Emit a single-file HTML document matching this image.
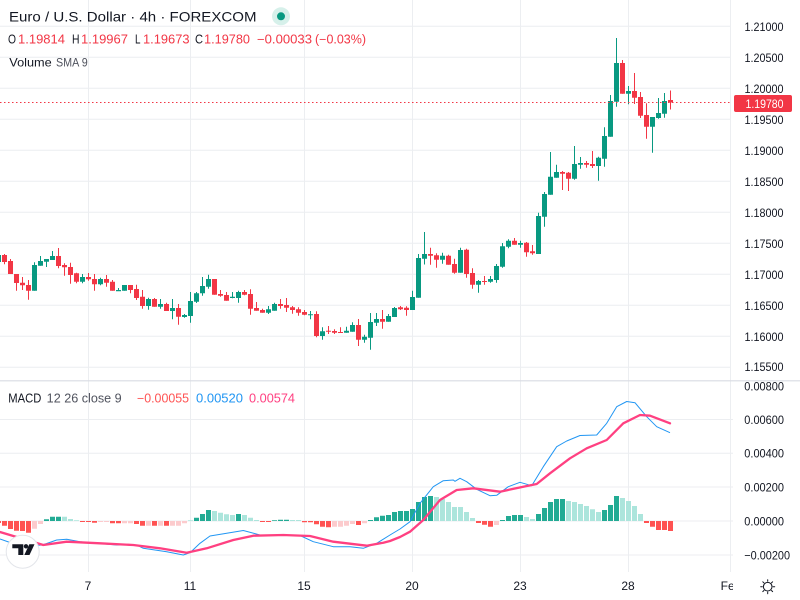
<!DOCTYPE html>
<html><head><meta charset="utf-8"><style>
html,body{margin:0;padding:0;background:#fff;}
svg{display:block;font-family:"Liberation Sans",sans-serif;}
</style></head><body>
<svg width="800" height="600" viewBox="0 0 800 600" xmlns="http://www.w3.org/2000/svg">
<rect width="800" height="600" fill="#fff"/>
<defs>
<clipPath id="plot"><rect x="0" y="0" width="731" height="600"/></clipPath>
<clipPath id="taxis"><rect x="0" y="560" width="733" height="40"/></clipPath>
<clipPath id="maxis"><rect x="732" y="381.5" width="68" height="190"/></clipPath>
</defs>
<!-- grid -->
<g stroke="#eceef1" stroke-width="1" fill="none">
<path d="M0 26.3H731M0 57.3H731M0 88.3H731M0 119.3H731M0 150.3H731M0 181.3H731M0 212.3H731M0 243.3H731M0 274.3H731M0 305.3H731M0 336.3H731M0 367.3H731"/>
<path d="M0 419.5H733M0 453.3H733M0 487H733M0 521H733M0 555H733"/>
<path d="M88.5 0V572M190.5 0V572M304.5 0V572M412.5 0V572M520.5 0V572M628.5 0V572M730.5 0V572"/>
</g>
<line x1="0" y1="380.8" x2="800" y2="380.8" stroke="#d9dbe3" stroke-width="1.2"/>

<g clip-path="url(#plot)">
<!-- wicks -->
<path stroke="#089981" stroke-width="1" fill="none" d="M-1.5 254V263M34.5 262.3V290.7M40.5 256V265.7M46.5 259V267M52.5 251V260M82.5 274V283.3M100.5 277.7V285.3M118.5 288V291M124.5 285V290.7M148.5 297.7V309.7M160.5 299V308.7M172.5 299V319.3M184.5 314V317.7M190.5 292V322.7M196.5 292V303M202.5 277V295.7M208.5 274.7V288.7M232.5 292V298.3M238.5 290.7V302.7M268.5 306V314M274.5 302.7V310.7M310.5 311V319.3M322.5 327.3V339.7M346.5 326.7V332.7M352.5 322.3V331.7M364.5 334.7V342.7M370.5 313V349.7M376.5 313V326M388.5 314V321.7M394.5 307V317M412.5 290.7V310M418.5 254V297.7M424.5 232V264.5M442.5 252.7V263.7M460.5 247.7V272.7M478.5 280V292.7M490.5 276V282.7M496.5 264V282.7M502.5 243V267.7M508.5 239.3V248.3M520.5 240.7V247.7M538.5 212.7V254M544.5 192V226.7M550.5 152V194.7M556.5 164.7V177.7M574.5 146V179.7M580.5 157V168.7M598.5 156.7V180.7M604.5 127.3V166.7M610.5 95V136.7M616.5 38V106.7M628.5 86V104.3M652.5 117V152.7M658.5 98V118.7M664.5 93V117.7"/>
<path stroke="#f23645" stroke-width="1" fill="none" d="M4.5 254V264.3M10.5 259V274M16.5 274V290.7M22.5 277V290M28.5 280V299.7M58.5 248V268.3M64.5 263.3V275.7M70.5 262.7V283.7M76.5 272.7V283.3M88.5 273V280.7M94.5 274V290.7M106.5 275V286.7M112.5 280V290.7M130.5 285V293.3M136.5 284.7V300M142.5 290V308.7M154.5 298V306.7M166.5 302.7V311M178.5 304V324.7M214.5 279V294.7M220.5 290V296.7M226.5 292V300.7M244.5 290V295.3M250.5 289.3V314.7M256.5 302V310.7M262.5 308.7V312.7M280.5 299V308.7M286.5 298V312M292.5 306V313.7M298.5 307.3V315.7M304.5 310V315.3M316.5 311.3V337.3M328.5 326V334M334.5 329.3V334M340.5 327.3V333M358.5 319V346M382.5 310V328.7M400.5 306V310M406.5 306.3V315.7M430.5 247.7V264.7M436.5 253.3V267.7M448.5 254.7V264.7M454.5 258.7V273.7M466.5 248.7V277.7M472.5 268.3V288.7M484.5 276V284.7M514.5 238V244.7M526.5 242V256.7M532.5 245V254.7M562.5 171V190M568.5 172V191M586.5 161V167.7M592.5 151V168M622.5 60V93.7M634.5 73V104M640.5 92V118M646.5 103.3V138.7M670.5 90.5V109.5"/>
<!-- bodies -->
<path fill="#089981" d="M-4 255h5V262h-5ZM32 265h5V290.7h-5ZM38 261h5V265.7h-5ZM44 259h5V261.7h-5ZM50 256h5V260h-5ZM80 277h5V281.7h-5ZM98 279h5V284.3h-5ZM116 290h5V291.2h-5ZM122 285h5V290.7h-5ZM146 299h5V306h-5ZM158 304h5V306.7h-5ZM170 308h5V311h-5ZM182 315h5V317h-5ZM188 301h5V316h-5ZM194 293.3h5V301.7h-5ZM200 286h5V293.3h-5ZM206 279h5V286.7h-5ZM230 296.7h5V298h-5ZM236 292h5V298h-5ZM266 309.3h5V312.7h-5ZM272 304h5V310.7h-5ZM308 314.2h5V315.3h-5ZM320 331.3h5V336h-5ZM344 330.7h5V332.7h-5ZM350 325h5V331.7h-5ZM362 336.7h5V339.7h-5ZM368 322h5V337.7h-5ZM374 319h5V322.7h-5ZM386 316h5V321.7h-5ZM392 308h5V317h-5ZM410 297h5V310h-5ZM416 258h5V297.7h-5ZM422 254h5V258.7h-5ZM440 255.7h5V259.7h-5ZM458 250h5V272.7h-5ZM476 281h5V284.7h-5ZM488 279h5V281.7h-5ZM494 266h5V280h-5ZM500 246.3h5V266.7h-5ZM506 240.7h5V246.7h-5ZM518 243h5V244.7h-5ZM536 216h5V254h-5ZM542 194h5V216.7h-5ZM548 176.7h5V194.7h-5ZM554 172h5V177.7h-5ZM572 164h5V178.7h-5ZM578 163h5V164.7h-5ZM596 157.7h5V166h-5ZM602 136h5V158.7h-5ZM608 101h5V136.7h-5ZM614 63h5V101.7h-5ZM626 91h5V93.7h-5ZM650 117h5V126.7h-5ZM656 113h5V118h-5ZM662 101h5V113.7h-5Z"/>
<path fill="#f23645" d="M2 255h5V262h-5ZM8 261h5V274h-5ZM14 274h5V283h-5ZM20 282.7h5V285.3h-5ZM26 285h5V290.7h-5ZM56 256h5V266h-5ZM62 265h5V267.3h-5ZM68 267h5V275h-5ZM74 273.3h5V281.7h-5ZM86 277h5V279.3h-5ZM92 279h5V284.3h-5ZM104 279h5V282.7h-5ZM110 281.7h5V290.7h-5ZM128 285h5V290h-5ZM134 289h5V298h-5ZM140 296.7h5V306h-5ZM152 299h5V306.7h-5ZM164 304h5V311h-5ZM176 308h5V316.7h-5ZM212 279h5V294.7h-5ZM218 294h5V295.7h-5ZM224 295h5V300.7h-5ZM242 292h5V294.7h-5ZM248 294h5V308.7h-5ZM254 308h5V310.7h-5ZM260 310h5V312.7h-5ZM278 304h5V306h-5ZM284 305h5V307.7h-5ZM290 307.3h5V310h-5ZM296 309.3h5V312.7h-5ZM302 312h5V314.7h-5ZM314 314h5V336h-5ZM326 330.7h5V331.7h-5ZM332 331h5V332.7h-5ZM338 332h5V333h-5ZM356 325h5V339.7h-5ZM380 319h5V321.7h-5ZM398 307.3h5V309.3h-5ZM404 307.7h5V310h-5ZM428 254h5V255.7h-5ZM434 255.3h5V259.7h-5ZM446 255.7h5V264.7h-5ZM452 264h5V272.7h-5ZM464 249.7h5V274h-5ZM470 273h5V284.7h-5ZM482 281h5V282h-5ZM512 240.7h5V244.7h-5ZM524 242.7h5V252.3h-5ZM530 251.3h5V253.3h-5ZM560 172h5V173.7h-5ZM566 172.7h5V178.7h-5ZM584 163h5V164.7h-5ZM590 164h5V166h-5ZM620 63h5V93.7h-5ZM632 91h5V97.7h-5ZM638 97h5V115.7h-5ZM644 115h5V126.7h-5ZM668 100h5V102.5h-5Z"/>
<!-- price line -->
<line x1="0" y1="102.5" x2="731" y2="102.5" stroke="#f23645" stroke-width="1" stroke-dasharray="1.5,2.5"/>

<!-- MACD histogram -->
<path fill="#22ab94" d="M44 519.3h5V521h-5ZM50 516.7h5V521h-5ZM56 516.7h5V521h-5ZM194 517.7h5V521h-5ZM200 514h5V521h-5ZM206 510h5V521h-5ZM236 514h5V521h-5ZM272 520.2h5V521h-5ZM278 519.7h5V521h-5ZM284 519.7h5V521h-5ZM368 520h5V521h-5ZM374 517.3h5V521h-5ZM380 515.7h5V521h-5ZM386 515h5V521h-5ZM392 512h5V521h-5ZM398 511h5V521h-5ZM404 511h5V521h-5ZM410 509h5V521h-5ZM416 502h5V521h-5ZM422 497h5V521h-5ZM428 496h5V521h-5ZM500 520h5V521h-5ZM506 516h5V521h-5ZM512 515h5V521h-5ZM518 515h5V521h-5ZM536 514h5V521h-5ZM542 508h5V521h-5ZM548 502h5V521h-5ZM554 499h5V521h-5ZM560 499h5V521h-5ZM602 510h5V521h-5ZM608 505h5V521h-5ZM614 496h5V521h-5Z"/>
<path fill="#ace5dc" d="M62 516.7h5V521h-5ZM68 519h5V521h-5ZM74 520.2h5V521h-5ZM188 520.2h5V521h-5ZM212 511h5V521h-5ZM218 512.7h5V521h-5ZM224 514.3h5V521h-5ZM230 515h5V521h-5ZM242 515h5V521h-5ZM248 517.7h5V521h-5ZM254 520h5V521h-5ZM290 520h5V521h-5ZM296 520h5V521h-5ZM434 497h5V521h-5ZM440 499h5V521h-5ZM446 502h5V521h-5ZM452 507h5V521h-5ZM458 507h5V521h-5ZM464 512h5V521h-5ZM470 518h5V521h-5ZM524 517h5V521h-5ZM530 519h5V521h-5ZM566 501h5V521h-5ZM572 502h5V521h-5ZM578 504h5V521h-5ZM584 506h5V521h-5ZM590 509.3h5V521h-5ZM596 512h5V521h-5ZM620 498h5V521h-5ZM626 501h5V521h-5ZM632 506h5V521h-5ZM638 514h5V521h-5Z"/>
<path fill="#ff5252" d="M-4 521h5V523h-5ZM2 521h5V525.7h-5ZM8 521h5V529h-5ZM14 521h5V530.7h-5ZM20 521h5V531h-5ZM26 521h5V532.7h-5ZM80 521h5V522h-5ZM86 521h5V522h-5ZM92 521h5V522.7h-5ZM110 521h5V523.3h-5ZM116 521h5V523.3h-5ZM134 521h5V524h-5ZM140 521h5V525.7h-5ZM152 521h5V525.7h-5ZM164 521h5V525.7h-5ZM260 521h5V522h-5ZM266 521h5V522h-5ZM302 521h5V522.3h-5ZM308 521h5V522.3h-5ZM314 521h5V524.3h-5ZM320 521h5V526.7h-5ZM326 521h5V527.3h-5ZM356 521h5V525h-5ZM476 521h5V523h-5ZM482 521h5V524.7h-5ZM488 521h5V526.7h-5ZM644 521h5V523h-5ZM650 521h5V526.7h-5ZM656 521h5V530h-5ZM662 521h5V530h-5ZM668 521h5V531h-5Z"/>
<path fill="#fccbcd" d="M32 521h5V528.7h-5ZM38 521h5V524h-5ZM98 521h5V522h-5ZM104 521h5V522h-5ZM122 521h5V523.3h-5ZM128 521h5V523.3h-5ZM146 521h5V525.7h-5ZM158 521h5V525.7h-5ZM170 521h5V525.7h-5ZM176 521h5V525.7h-5ZM182 521h5V523.3h-5ZM332 521h5V526.7h-5ZM338 521h5V526.7h-5ZM344 521h5V525.7h-5ZM350 521h5V524h-5ZM362 521h5V523.3h-5ZM494 521h5V525h-5Z"/>
<!-- MACD line -->
<polyline fill="none" stroke="#2196f3" stroke-width="1" stroke-linejoin="round" points="0,539 10,542.5 20,545 30,546 41.7,545 46.7,543.5 56.7,540 66.7,539.3 80,541.7 96.7,543.3 116.7,545 136.7,545 143.3,548.3 166.7,551.7 183.3,555 190,552.7 200,543.3 210,536 226.7,533.3 243.3,530.5 260,535 276.7,535 300,535.5 313.3,541.7 333.3,546.7 350,546.7 363.3,548.3 376.7,543.3 390,535 400,529 410,521.7 420,503.3 433.3,486.7 443.3,480.7 453.3,480 455,481.3 460,478.3 466.7,481.7 476.7,489.3 490,495.7 496.7,495.3 508.3,486.7 520,482.3 531.7,485.7 543.3,466.7 556.7,446.7 566.7,441 580,435.5 596.7,435 606.7,423.3 616.7,406.7 626.7,401.5 635,402.7 646.7,416.7 656.7,426.7 670,432.7"/>
<!-- signal line -->
<polyline fill="none" stroke="#ff4081" stroke-width="2.3" stroke-linejoin="round" stroke-linecap="round" points="0,532 15,536.5 30,541 43.3,545 66.7,541.7 100,543.3 133.3,545 160,548.3 186.7,552.7 206.7,548.3 233.3,540 253.3,535.7 283.3,535 310,536 333.3,541.7 366.7,545.7 383.3,542.7 390,541 400,537 410,531.7 423.3,520 440,500 456.7,490 473.3,488.3 500,491.7 523.3,486.7 536.7,484 550,473.3 570,458.3 586.7,448.3 606.7,440 623.3,423.3 640,415 650,415.7 670,423.3"/>
</g>

<!-- logo -->
<circle cx="22.7" cy="551.7" r="16.5" fill="#fff" stroke="#e3e5ea" stroke-width="1"/>
<path fill="#131722" d="M12.3 544.3H23.3V555H18.3V548.3H12.3Z"/>
<circle cx="26" cy="546.3" r="2.2" fill="#131722"/>
<path fill="#131722" d="M29.3 544.3H34.5L29.5 555H24.3Z"/>

<!-- header -->
<text x="9" y="21.7" font-size="14" fill="#131722" textLength="247.5" lengthAdjust="spacingAndGlyphs">Euro / U.S. Dollar · 4h · FOREXCOM</text>
<circle cx="281" cy="16.3" r="9" fill="#d6f0ea"/>
<circle cx="281" cy="16.3" r="4" fill="#089981"/>
<g font-size="12.5">
<text x="8" y="43.5" fill="#131722" textLength="8" lengthAdjust="spacingAndGlyphs">O</text>
<text x="18" y="43.5" fill="#f23645" textLength="47" lengthAdjust="spacingAndGlyphs">1.19814</text>
<text x="72" y="43.5" fill="#131722" textLength="7.5" lengthAdjust="spacingAndGlyphs">H</text>
<text x="81" y="43.5" fill="#f23645" textLength="47" lengthAdjust="spacingAndGlyphs">1.19967</text>
<text x="135" y="43.5" fill="#131722" textLength="5.5" lengthAdjust="spacingAndGlyphs">L</text>
<text x="143" y="43.5" fill="#f23645" textLength="46.5" lengthAdjust="spacingAndGlyphs">1.19673</text>
<text x="195" y="43.5" fill="#131722" textLength="8" lengthAdjust="spacingAndGlyphs">C</text>
<text x="204" y="43.5" fill="#f23645" textLength="46" lengthAdjust="spacingAndGlyphs">1.19780</text>
<text x="257" y="43.5" fill="#f23645" textLength="55" lengthAdjust="spacingAndGlyphs">−0.00033</text>
<text x="315" y="43.5" fill="#f23645" textLength="51" lengthAdjust="spacingAndGlyphs">(−0.03%)</text>
</g>
<text x="9.3" y="66.5" font-size="12" fill="#131722" textLength="42.4" lengthAdjust="spacingAndGlyphs">Volume</text>
<text x="56" y="66.5" font-size="12" fill="#50535e" textLength="31.7" lengthAdjust="spacingAndGlyphs">SMA 9</text>

<!-- MACD legend -->
<g font-size="12.5">
<text x="8.3" y="402.5" fill="#131722" textLength="33" lengthAdjust="spacingAndGlyphs">MACD</text>
<text x="46.7" y="402.5" fill="#50535e" textLength="75" lengthAdjust="spacingAndGlyphs">12 26 close 9</text>
<text x="137" y="402.5" fill="#ff5252" textLength="52" lengthAdjust="spacingAndGlyphs">−0.00055</text>
<text x="196" y="402.5" fill="#2196f3" textLength="47" lengthAdjust="spacingAndGlyphs">0.00520</text>
<text x="249" y="402.5" fill="#ff4081" textLength="46" lengthAdjust="spacingAndGlyphs">0.00574</text>
</g>

<!-- price axis -->
<g font-size="12" fill="#131722">
<text x="744.5" y="30.8" textLength="39" lengthAdjust="spacingAndGlyphs">1.21000</text>
<text x="744.5" y="61.8" textLength="39" lengthAdjust="spacingAndGlyphs">1.20500</text>
<text x="744.5" y="92.8" textLength="39" lengthAdjust="spacingAndGlyphs">1.20000</text>
<text x="744.5" y="123.8" textLength="39" lengthAdjust="spacingAndGlyphs">1.19500</text>
<text x="744.5" y="154.8" textLength="39" lengthAdjust="spacingAndGlyphs">1.19000</text>
<text x="744.5" y="185.8" textLength="39" lengthAdjust="spacingAndGlyphs">1.18500</text>
<text x="744.5" y="216.8" textLength="39" lengthAdjust="spacingAndGlyphs">1.18000</text>
<text x="744.5" y="247.8" textLength="39" lengthAdjust="spacingAndGlyphs">1.17500</text>
<text x="744.5" y="278.8" textLength="39" lengthAdjust="spacingAndGlyphs">1.17000</text>
<text x="744.5" y="309.8" textLength="39" lengthAdjust="spacingAndGlyphs">1.16500</text>
<text x="744.5" y="340.8" textLength="39" lengthAdjust="spacingAndGlyphs">1.16000</text>
<text x="744.5" y="371.2" textLength="39" lengthAdjust="spacingAndGlyphs">1.15500</text>
</g>
<rect x="734" y="95" width="58" height="17" rx="2" fill="#f23645"/>
<text x="745.5" y="107.8" font-size="12" fill="#fff" textLength="38" lengthAdjust="spacingAndGlyphs">1.19780</text>

<!-- MACD axis -->
<g font-size="12" fill="#131722" clip-path="url(#maxis)">
<text x="744.3" y="390.3" textLength="39.7" lengthAdjust="spacingAndGlyphs">0.00800</text>
<text x="744.3" y="424" textLength="39.7" lengthAdjust="spacingAndGlyphs">0.00600</text>
<text x="744.3" y="457.7" textLength="39.7" lengthAdjust="spacingAndGlyphs">0.00400</text>
<text x="744.3" y="491.4" textLength="39.7" lengthAdjust="spacingAndGlyphs">0.00200</text>
<text x="744.3" y="525.3" textLength="39.7" lengthAdjust="spacingAndGlyphs">0.00000</text>
<text x="744.3" y="559.3" textLength="45.7" lengthAdjust="spacingAndGlyphs">−0.00200</text>
</g>

<!-- time axis -->
<g font-size="12" fill="#131722" text-anchor="middle" clip-path="url(#taxis)">
<text x="88" y="590">7</text>
<text x="190" y="590">11</text>
<text x="304" y="590">15</text>
<text x="412" y="590">20</text>
<text x="520" y="590">23</text>
<text x="628" y="590">28</text>
<text x="731" y="590">Feb</text>
</g>

<!-- settings sun icon -->
<g stroke="#131722" stroke-width="1" fill="none" stroke-linecap="round">
<circle cx="767.7" cy="586.7" r="4.3"/>
<path d="M767.7 579.7V581.3M767.7 592.1V593.7M760.7 586.7H762.3M773.1 586.7H774.7M762.8 581.8L763.9 582.9M771.5 590.5L772.6 591.6M772.6 581.8L771.5 582.9M763.9 590.5L762.8 591.6"/>
</g>
</svg>
</body></html>
